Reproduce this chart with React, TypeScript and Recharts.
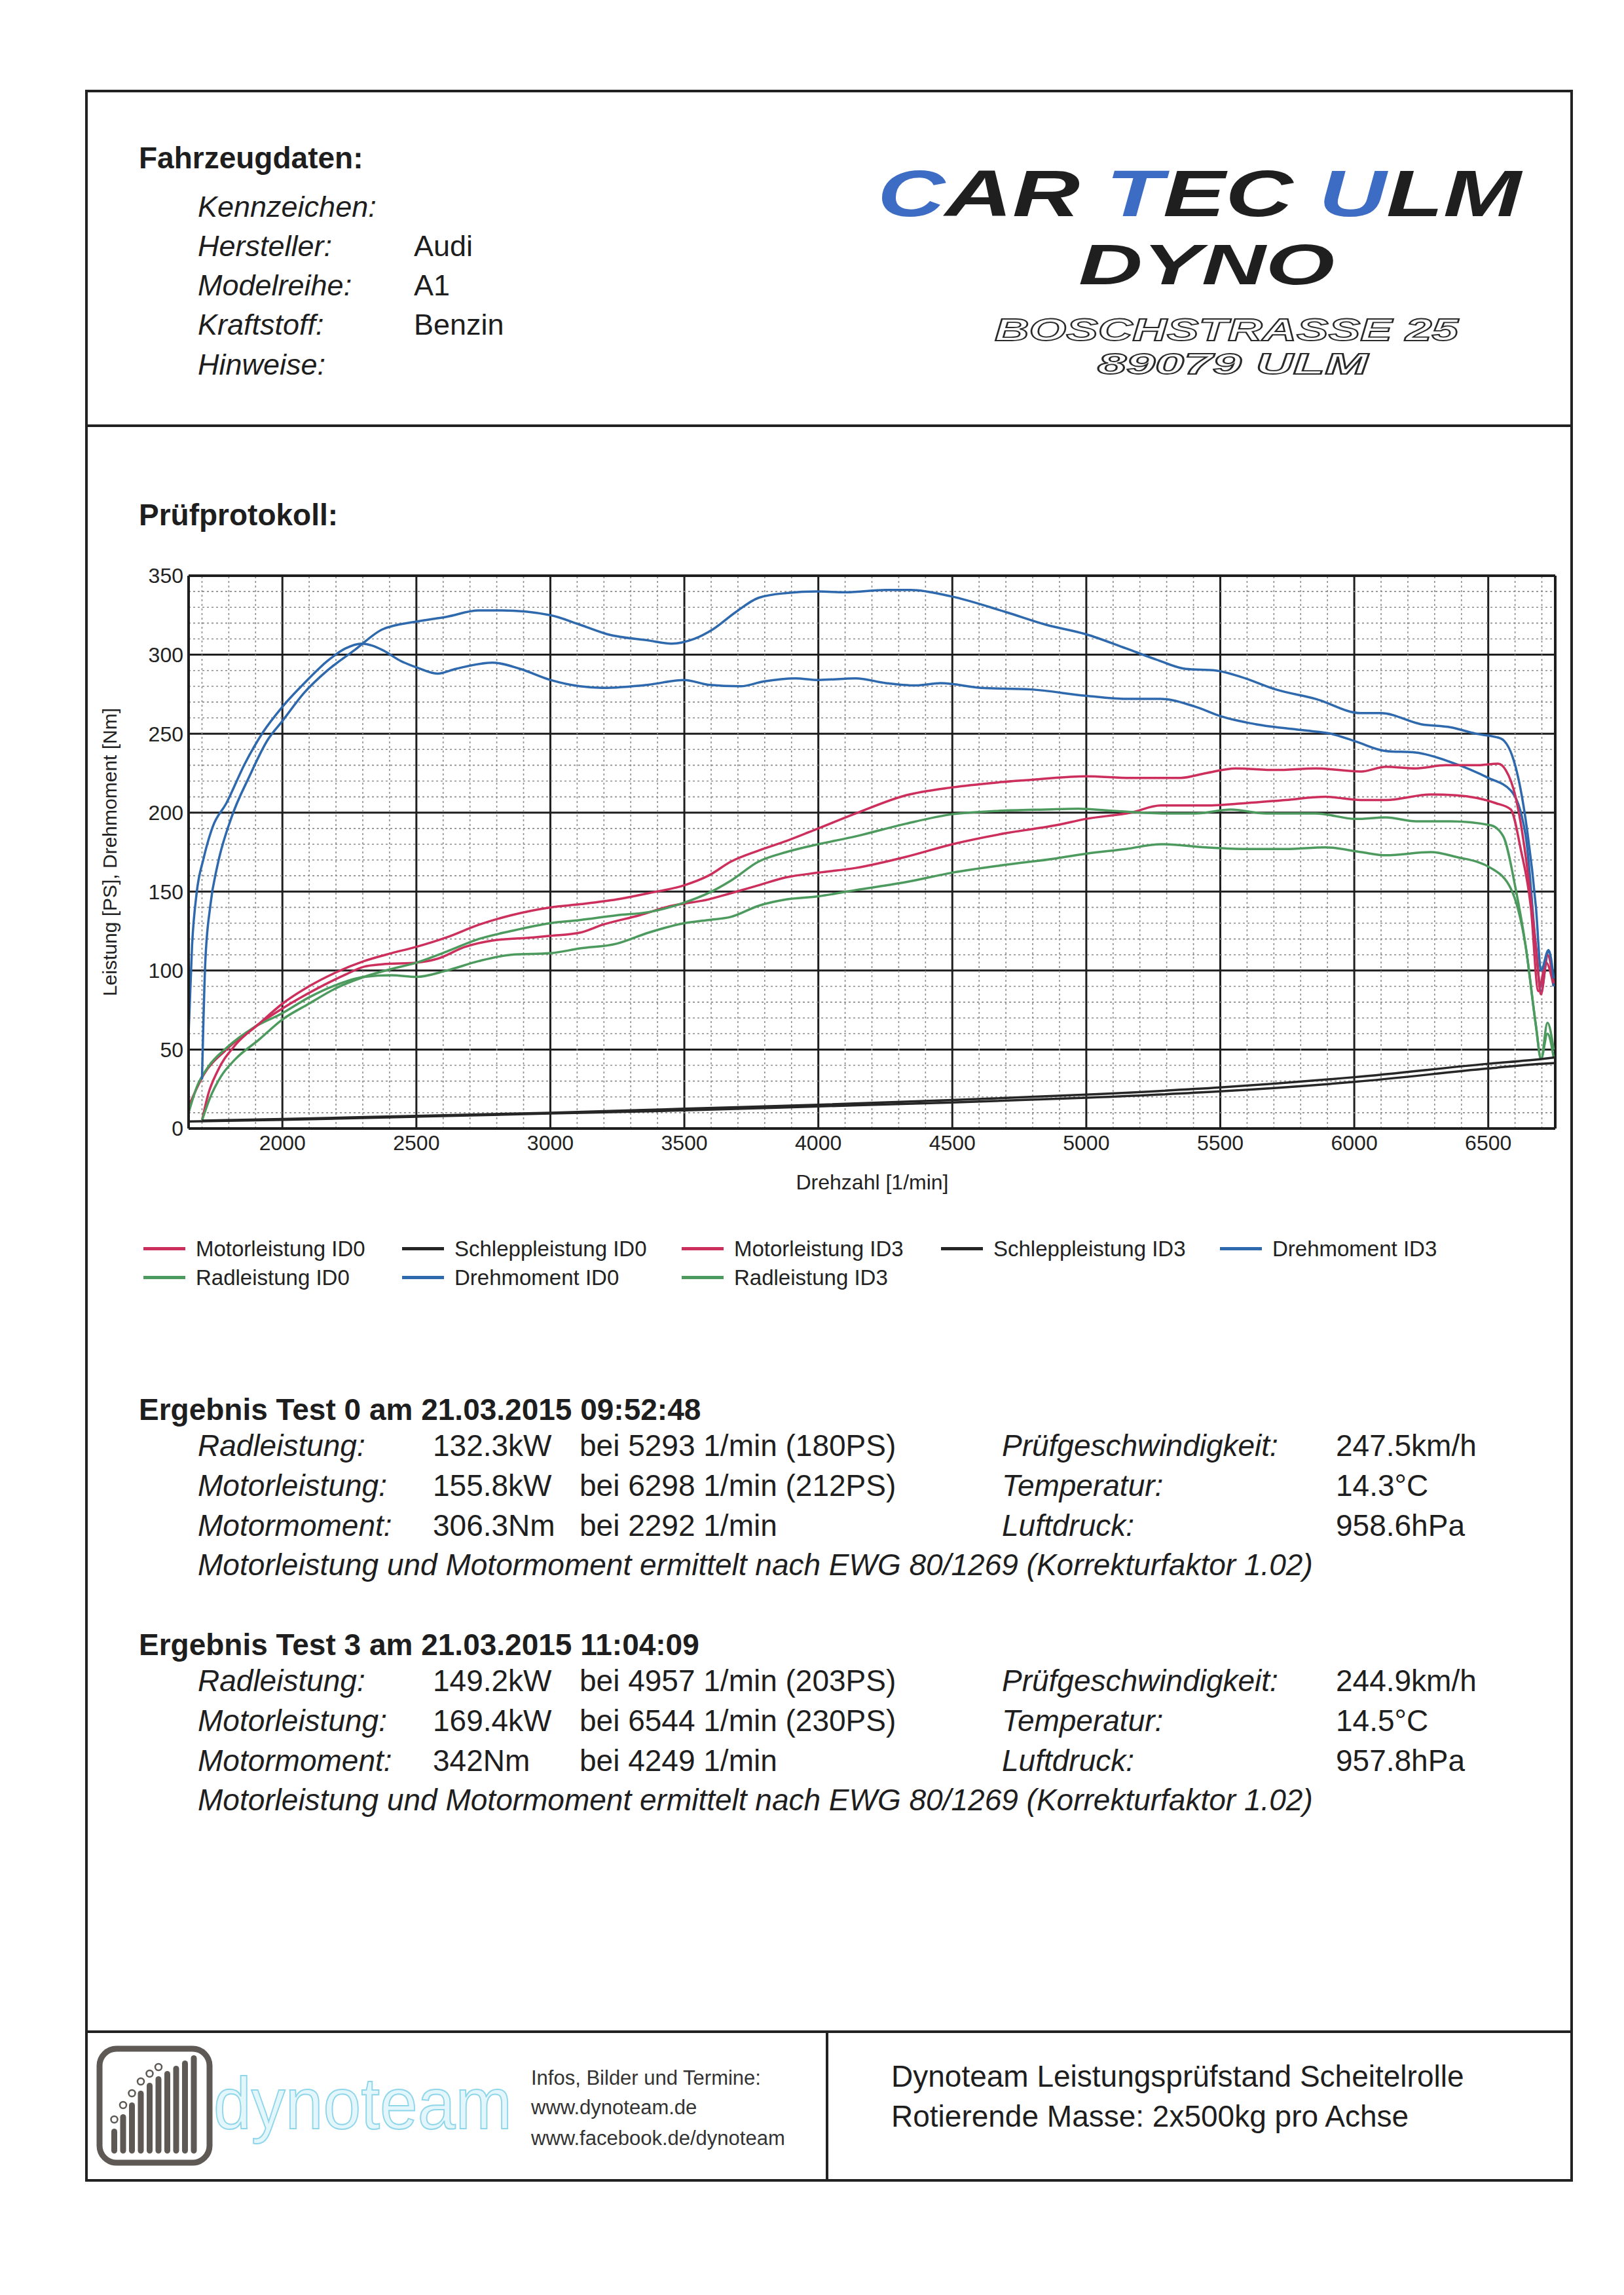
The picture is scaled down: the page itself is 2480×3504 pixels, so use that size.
import React from "react";
import { LineChart, Line, XAxis, YAxis, CartesianGrid, ReferenceLine } from "recharts";

const FONT = '"Liberation Sans", Arial, Helvetica, sans-serif';

// ---------- axes ----------
const rpmTicks = [2000, 2500, 3000, 3500, 4000, 4500, 5000, 5500, 6000, 6500];
const valueTicks = [0, 50, 100, 150, 200, 250, 300, 350];
const rpmDomain = [1650, 6750];
const valueDomain = [0, 350];
const minorRpmLines = Array.from({ length: 51 }, (_, i) => 1700 + i * 100).filter((v) => v % 500 !== 0);
const minorValueLines = Array.from({ length: 34 }, (_, i) => 10 + i * 10).filter((v) => v % 50 !== 0);

// ---------- series ----------
const drehmomentID0Rpm = [1650, 1663, 1680, 1706, 1740, 1791, 1860, 1928, 2000, 2082, 2168, 2236, 2296, 2373, 2442, 2500, 2579, 2647, 2784, 2887, 3000, 3110, 3195, 3366, 3500, 3589, 3709, 3795, 3914, 4000, 4140, 4252, 4364, 4457, 4606, 4793, 4998, 5148, 5278, 5408, 5502, 5632, 5819, 5912, 6006, 6118, 6230, 6360, 6500, 6584, 6640, 6678, 6697, 6725, 6744];
const drehmomentID0Nm = [60, 116, 149, 171, 191, 206, 231, 251, 267, 282, 296, 304, 307, 303, 296, 292, 288, 291, 295, 291, 284, 280, 279, 281, 284, 281, 280, 283, 285, 284, 285, 282, 280.5, 282, 279, 278, 274, 272, 272, 267, 261, 256, 252, 250, 245, 239, 238, 232, 222, 214, 185, 115, 87, 112, 90];

const drehmomentID3Rpm = [1700, 1712, 1731, 1757, 1808, 1877, 1945, 2000, 2082, 2168, 2270, 2373, 2500, 2613, 2733, 2818, 3000, 3110, 3212, 3366, 3452, 3537, 3606, 3692, 3777, 3880, 4000, 4103, 4252, 4345, 4494, 4700, 4849, 4998, 5148, 5260, 5371, 5483, 5576, 5707, 5856, 6025, 6100, 6249, 6360, 6453, 6546, 6602, 6640, 6678, 6697, 6725, 6744];
const drehmomentID3Nm = [31, 104, 141, 166, 196, 223, 246, 258, 276, 290, 303, 316, 321, 324, 328, 328, 325, 319, 313, 309, 307, 310, 316, 327, 336, 339, 340, 339.5, 341, 341, 337, 327, 319, 313, 304, 297, 291, 290, 286, 278, 272, 263, 263, 256, 254, 250, 247, 229, 195, 140, 100, 113, 95];

const motorleistungID0Rpm = [1650, 1706, 1791, 1894, 2000, 2134, 2236, 2305, 2373, 2500, 2579, 2682, 2784, 2938, 3000, 3110, 3195, 3332, 3452, 3589, 3674, 3777, 3880, 4000, 4140, 4327, 4500, 4700, 4886, 4998, 5166, 5278, 5446, 5595, 5744, 5893, 6025, 6118, 6286, 6379, 6528, 6584, 6621, 6659, 6687, 6716, 6744];
const motorleistungID0PS = [14, 34, 50, 64, 76, 89, 97.5, 102.5, 104, 105, 107.5, 115, 119, 121, 122, 124, 129, 135, 141, 145, 149, 154, 159, 162, 165, 172, 180, 187, 192, 196, 200, 204.5, 204.5, 206, 208, 210, 208, 208, 211.5, 211, 206, 202, 177, 140, 87, 105, 90];

const motorleistungID3Rpm = [1700, 1722, 1757, 1825, 1911, 2000, 2099, 2202, 2305, 2407, 2500, 2613, 2733, 2853, 3000, 3110, 3247, 3366, 3500, 3589, 3674, 3777, 3880, 4000, 4140, 4327, 4500, 4662, 4812, 4998, 5166, 5352, 5446, 5558, 5707, 5856, 6025, 6118, 6230, 6342, 6453, 6537, 6565, 6602, 6640, 6678, 6697, 6721, 6744];
const motorleistungID3PS = [5, 21, 36, 53, 66, 79, 90, 99, 106, 111, 115, 121, 129, 135, 140, 142, 145, 149, 154, 160, 169, 176, 182, 190, 199.5, 211, 216, 219, 221, 223, 222, 222, 225, 228, 227, 228, 226, 229, 228, 230, 230, 231, 227, 210, 172, 115, 85, 110, 92];

const radleistungID0Rpm = [1650, 1680, 1723, 1791, 1894, 2000, 2099, 2202, 2305, 2407, 2500, 2613, 2733, 2853, 3000, 3110, 3247, 3366, 3500, 3589, 3674, 3777, 3880, 4000, 4140, 4327, 4500, 4700, 4886, 4998, 5148, 5278, 5446, 5595, 5744, 5893, 6025, 6118, 6286, 6379, 6509, 6584, 6640, 6678, 6697, 6721, 6744];
const radleistungID0PS = [10, 26, 39, 51, 64, 73, 83, 91, 96, 97, 96, 100, 106, 110, 111, 114, 117, 124, 130, 132, 134, 141, 145, 147, 151, 156, 162, 167, 171, 174, 177, 180, 178, 177, 177, 178, 175, 173, 175, 172, 165, 152, 115, 65, 44, 60, 45];

const radleistungID3Rpm = [1700, 1729, 1771, 1825, 1911, 2000, 2099, 2202, 2305, 2407, 2500, 2613, 2733, 2853, 3000, 3110, 3247, 3366, 3500, 3589, 3674, 3777, 3880, 4000, 4140, 4327, 4500, 4662, 4849, 4970, 5110, 5297, 5408, 5539, 5670, 5856, 6006, 6118, 6230, 6360, 6509, 6556, 6602, 6640, 6678, 6697, 6721, 6744];
const radleistungID3PS = [5, 19, 33, 44, 56, 69, 79, 89, 96, 101, 105, 112, 120, 125, 130, 132, 135, 137, 143, 149, 157, 169, 175, 180, 185, 193, 199, 201, 202, 202.5, 201, 199.5, 199.5, 202, 199.5, 199.5, 196, 197, 194.5, 194.5, 192, 185, 152, 115, 65, 44, 67, 50];

const schleppleistungID0Rpm = [1650, 2000, 2500, 3000, 3500, 4000, 4500, 5000, 5500, 6000, 6500, 6697, 6750];
const schleppleistungID0PS = [4.5, 5.5, 7.5, 9.5, 11.5, 14, 16.5, 19.5, 23.5, 29.5, 38, 41, 41.5];

const schleppleistungID3Rpm = [1700, 2000, 2500, 3000, 3500, 4000, 4500, 5000, 5500, 6000, 6500, 6697, 6750];
const schleppleistungID3PS = [5, 6, 8, 10, 12.5, 15, 18, 21.5, 26, 32.5, 41, 44, 45];

// ---------- page texts ----------
const vehicleLabels = ["Kennzeichen:", "Hersteller:", "Modelreihe:", "Kraftstoff:", "Hinweise:"];
const vehicleValues = ["", "Audi", "A1", "Benzin", ""];

const test0Title = "Ergebnis Test 0 am 21.03.2015 09:52:48";
const test0Labels = ["Radleistung:", "Motorleistung:", "Motormoment:"];
const test0Values = ["132.3kW", "155.8kW", "306.3Nm"];
const test0At = ["bei 5293 1/min (180PS)", "bei 6298 1/min (212PS)", "bei 2292 1/min"];
const test0RightLabels = ["Prüfgeschwindigkeit:", "Temperatur:", "Luftdruck:"];
const test0RightValues = ["247.5km/h", "14.3°C", "958.6hPa"];

const test3Title = "Ergebnis Test 3 am 21.03.2015 11:04:09";
const test3Labels = ["Radleistung:", "Motorleistung:", "Motormoment:"];
const test3Values = ["149.2kW", "169.4kW", "342Nm"];
const test3At = ["bei 4957 1/min (203PS)", "bei 6544 1/min (230PS)", "bei 4249 1/min"];
const test3RightLabels = ["Prüfgeschwindigkeit:", "Temperatur:", "Luftdruck:"];
const test3RightValues = ["244.9km/h", "14.5°C", "957.8hPa"];

const noteText = "Motorleistung und Motormoment ermittelt nach EWG 80/1269 (Korrekturfaktor 1.02)";

const RED = "#cc2f5b";
const GREEN = "#4c9a5d";
const BLUE = "#2e68ad";
const BLACK = "#262626";

const zip = (xs: number[], ys: number[]) => xs.map((rpm, i) => ({ rpm, v: ys[i] }));

const series = [
  { key: "m0", name: "Motorleistung ID0", color: RED, data: zip(motorleistungID0Rpm, motorleistungID0PS) },
  { key: "r0", name: "Radleistung ID0", color: GREEN, data: zip(radleistungID0Rpm, radleistungID0PS) },
  { key: "s0", name: "Schleppleistung ID0", color: BLACK, data: zip(schleppleistungID0Rpm, schleppleistungID0PS) },
  { key: "d0", name: "Drehmoment ID0", color: BLUE, data: zip(drehmomentID0Rpm, drehmomentID0Nm) },
  { key: "m3", name: "Motorleistung ID3", color: RED, data: zip(motorleistungID3Rpm, motorleistungID3PS) },
  { key: "r3", name: "Radleistung ID3", color: GREEN, data: zip(radleistungID3Rpm, radleistungID3PS) },
  { key: "s3", name: "Schleppleistung ID3", color: BLACK, data: zip(schleppleistungID3Rpm, schleppleistungID3PS) },
  { key: "d3", name: "Drehmoment ID3", color: BLUE, data: zip(drehmomentID3Rpm, drehmomentID3Nm) },
];

// legend grid: [column x of line start, row] per series key
const legendSlots: Record<string, [number, number]> = {
  m0: [219, 0], r0: [219, 1], s0: [614, 0], d0: [614, 1],
  m3: [1041, 0], r3: [1041, 1], s3: [1437, 0], d3: [1863, 0],
};

function T({ x, y, size = 46, bold = false, italic = false, color = "#1e1e1e", children }: any) {
  return (
    <div
      style={{
        position: "absolute",
        left: x,
        top: y - size * 0.5,
        fontSize: size,
        lineHeight: `${size}px`,
        fontWeight: bold ? 700 : 400,
        fontStyle: italic ? "italic" : "normal",
        color,
        whiteSpace: "nowrap",
        fontFamily: FONT,
      }}
    >
      {children}
    </div>
  );
}

function ResultBlock({ y, title, labels, values, at, rLabels, rValues }: any) {
  const rows = [y + 55, y + 116, y + 177];
  return (
    <>
      <T x={212} y={y} bold>{title}</T>
      {rows.map((ry, i) => (
        <React.Fragment key={i}>
          <T x={302} y={ry} italic>{labels[i]}</T>
          <T x={661} y={ry}>{values[i]}</T>
          <T x={885} y={ry}>{at[i]}</T>
          <T x={1530} y={ry} italic>{rLabels[i]}</T>
          <T x={2040} y={ry}>{rValues[i]}</T>
        </React.Fragment>
      ))}
      <T x={302} y={y + 237} italic>{noteText}</T>
    </>
  );
}

const eqBars = [38, 60, 78, 96, 108, 118, 126, 134, 142, 150];

const LOGO_FONT = "'Liberation Sans', Arial, sans-serif";

export default function App() {
  return (
    <div style={{ position: "absolute", left: 0, top: 0, width: 2480, height: 3504, background: "#fff", fontFamily: FONT, overflow: "hidden" }}>
      {/* outer frame */}
      <div style={{ position: "absolute", left: 130, top: 137, width: 2272, height: 3194, border: "4px solid #222", boxSizing: "border-box" }} />
      <div style={{ position: "absolute", left: 130, top: 648, width: 2272, height: 4, background: "#222" }} />
      <div style={{ position: "absolute", left: 130, top: 3100, width: 2272, height: 4, background: "#222" }} />
      <div style={{ position: "absolute", left: 1261, top: 3100, width: 4, height: 231, background: "#222" }} />

      {/* vehicle data */}
      <T x={212} y={241} bold>Fahrzeugdaten:</T>
      {vehicleLabels.map((l, i) => (
        <React.Fragment key={l}>
          <T x={302} y={315 + i * 60.3} size={45} italic>{l}</T>
          <T x={632} y={315 + i * 60.3} size={45}>{vehicleValues[i]}</T>
        </React.Fragment>
      ))}

      {/* header logo */}
      <svg width={2480} height={650} style={{ position: "absolute", left: 0, top: 0 }}>
        <text x={1340} y={330} fontSize={100} fontWeight={700} fontStyle="italic" fontFamily={LOGO_FONT} textLength={983} lengthAdjust="spacingAndGlyphs" fill="#1f1f1f">
          <tspan fill="#3d6cc4">C</tspan>AR <tspan fill="#3d6cc4">T</tspan>EC <tspan fill="#3d6cc4">U</tspan>LM
        </text>
        <text x={1647} y={434} fontSize={88} fontWeight={700} fontStyle="italic" fontFamily={LOGO_FONT} textLength={391} lengthAdjust="spacingAndGlyphs" fill="#1f1f1f">DYNO</text>
        <text x={1519} y={520} fontSize={48} fontWeight={700} fontStyle="italic" fontFamily={LOGO_FONT} textLength={708} lengthAdjust="spacingAndGlyphs" fill="#fff" stroke="#2a2a2a" strokeWidth={1.8}>BOSCHSTRASSE 25</text>
        <text x={1676} y={571} fontSize={44} fontWeight={700} fontStyle="italic" fontFamily={LOGO_FONT} textLength={413} lengthAdjust="spacingAndGlyphs" fill="#fff" stroke="#2a2a2a" strokeWidth={1.8}>89079 ULM</text>
      </svg>

      <T x={212} y={786} bold>Prüfprotokoll:</T>

      {/* chart */}
      <div style={{ position: "absolute", left: 130, top: 840 }}>
        <LineChart width={2272} height={960} margin={{ top: 39, right: 27, bottom: 17, left: 58 }}>
          <CartesianGrid stroke="#1e1e1e" strokeWidth={3} />
          {minorRpmLines.map((v) => (
            <ReferenceLine key={"vx" + v} x={v} stroke="#8c8c8c" strokeWidth={1.6} strokeDasharray="3 4" />
          ))}
          {minorValueLines.map((v) => (
            <ReferenceLine key={"hy" + v} y={v} stroke="#8c8c8c" strokeWidth={1.6} strokeDasharray="3 4" />
          ))}
          <XAxis
            type="number"
            dataKey="rpm"
            domain={rpmDomain}
            ticks={rpmTicks}
            allowDataOverflow
            tickLine={false}
            tickSize={0}
            tickMargin={10}
            height={60}
            axisLine={{ stroke: "#1e1e1e", strokeWidth: 4 }}
            tick={{ fill: "#222", fontSize: 32, fontFamily: FONT }}
          />
          <YAxis
            type="number"
            domain={valueDomain}
            ticks={valueTicks}
            allowDataOverflow
            tickLine={false}
            tickSize={0}
            tickMargin={8}
            width={100}
            axisLine={{ stroke: "#1e1e1e", strokeWidth: 4 }}
            tick={{ fill: "#222", fontSize: 32, fontFamily: FONT }}
          />
          <ReferenceLine y={350} stroke="#1e1e1e" strokeWidth={4} />
          <ReferenceLine x={6750} stroke="#1e1e1e" strokeWidth={4} />
          {series.map((s) => (
            <Line
              key={s.key}
              data={s.data}
              dataKey="v"
              name={s.name}
              type="monotone"
              stroke={s.color}
              strokeWidth={3.5}
              dot={false}
              activeDot={false}
              isAnimationActive={false}
            />
          ))}
        </LineChart>
      </div>

      {/* axis titles */}
      <div style={{ position: "absolute", left: 168, top: 1301, transform: "translate(-50%, -50%) rotate(-90deg)", fontSize: 30, whiteSpace: "nowrap", color: "#222", fontFamily: FONT }}>
        Leistung [PS], Drehmoment [Nm]
      </div>
      <div style={{ position: "absolute", left: 1332, top: 1805, transform: "translate(-50%, -50%)", fontSize: 32, whiteSpace: "nowrap", color: "#222", fontFamily: FONT }}>
        Drehzahl [1/min]
      </div>

      {/* legend */}
      {series.map((s) => {
        const [lx, row] = legendSlots[s.key];
        const cy = 1906 + row * 44;
        return (
          <React.Fragment key={"lg" + s.key}>
            <div style={{ position: "absolute", left: lx, top: cy - 2.5, width: 64, height: 5, background: s.color }} />
            <T x={lx + 80} y={cy} size={33} color="#222">{s.name}</T>
          </React.Fragment>
        );
      })}

      {/* results */}
      <ResultBlock y={2152} title={test0Title} labels={test0Labels} values={test0Values} at={test0At} rLabels={test0RightLabels} rValues={test0RightValues} />
      <ResultBlock y={2511} title={test3Title} labels={test3Labels} values={test3Values} at={test3At} rLabels={test3RightLabels} rValues={test3RightValues} />

      {/* footer */}
      <svg width={2480} height={260} style={{ position: "absolute", left: 0, top: 3100 }}>
        <rect x={152} y={28} width={168} height={174} rx={26} fill="none" stroke="#5e5954" strokeWidth={9} />
        {eqBars.map((h, i) => (
          <rect key={i} x={170 + i * 13.5} y={188 - h} width={9} height={h} rx={4.5} fill="#5e5954" />
        ))}
        {eqBars.slice(0, 6).map((h, i) => (
          <circle key={"c" + i} cx={174.5 + i * 13.5} cy={188 - h - 14} r={5} fill="none" stroke="#5e5954" strokeWidth={2.5} />
        ))}
        <text x={326} y={150} fontSize={112} fontFamily="'Liberation Sans', Arial, sans-serif" textLength={456} lengthAdjust="spacingAndGlyphs" fill="#e3f6fb" stroke="#8fd6ea" strokeWidth={2}>dynoteam</text>
      </svg>
      <T x={811} y={3172} size={31} color="#333">Infos, Bilder und Termine:</T>
      <T x={811} y={3217} size={31} color="#333">www.dynoteam.de</T>
      <T x={811} y={3264} size={31} color="#333">www.facebook.de/dynoteam</T>
      <T x={1361} y={3170}>Dynoteam Leistungsprüfstand Scheitelrolle</T>
      <T x={1361} y={3231}>Rotierende Masse: 2x500kg pro Achse</T>
    </div>
  );
}
